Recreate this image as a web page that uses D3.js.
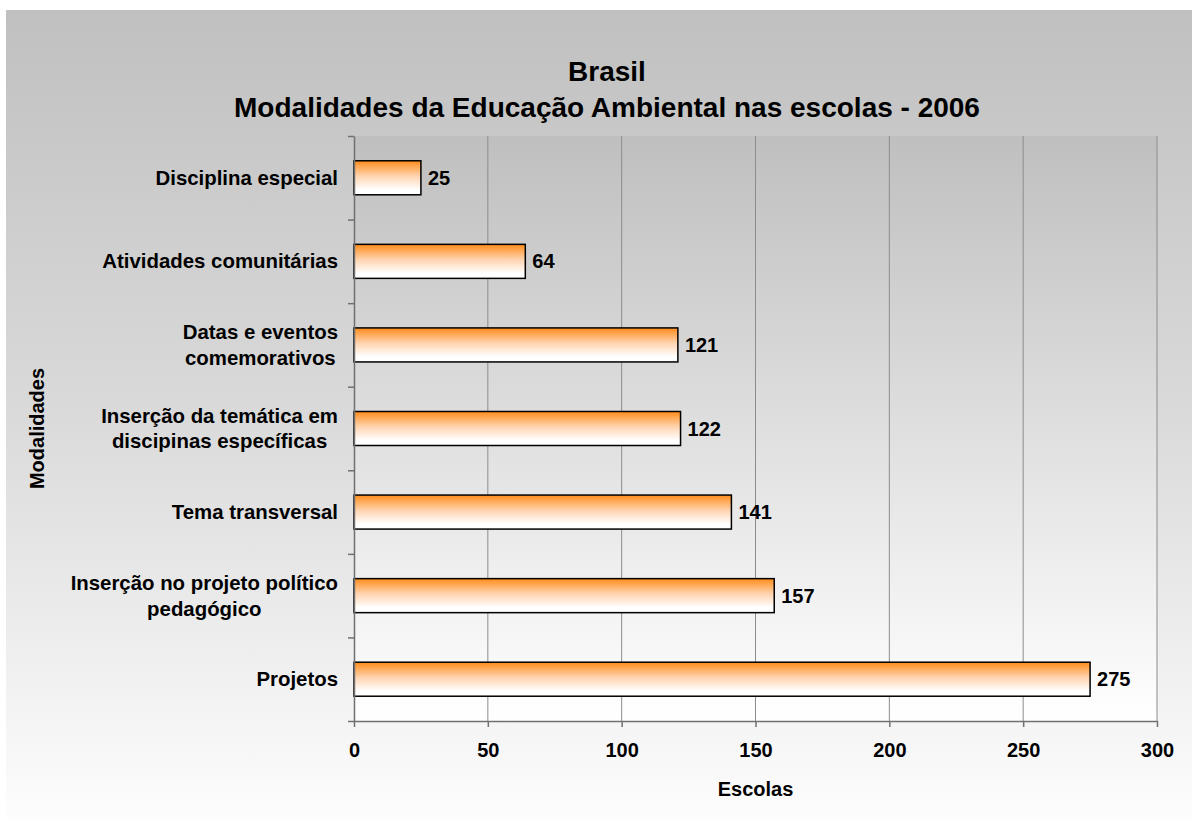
<!DOCTYPE html>
<html>
<head>
<meta charset="utf-8">
<script src="https://cdn.jsdelivr.net/npm/d3@7"></script>
<style>
  body { margin: 0; background: #fff; }
  text { font-family: Arial, "Liberation Sans", sans-serif; font-weight: bold; fill: #000; }
</style>
</head>
<body>
<div id="chart"></div>
<script>
// data (top to bottom)
var categories = [
  ["Disciplina especial"],
  ["Atividades comunitárias"],
  ["Datas e eventos", "comemorativos"],
  ["Inserção da temática em", "discipinas específicas"],
  ["Tema transversal"],
  ["Inserção no projeto político", "pedagógico"],
  ["Projetos"]
];
var values = [25, 64, 121, 122, 141, 157, 275];
var xTicks = [0, 50, 100, 150, 200, 250, 300];
var titleLines = ["Brasil", "Modalidades da Educação Ambiental nas escolas - 2006"];
var xLabel = "Escolas";
var yLabel = "Modalidades";

var W = 1193, H = 821;
var plot = {left: 354, right: 1157, top: 136, bottom: 721};

var svg = d3.select("#chart").append("svg")
  .attr("width", W)
  .attr("height", H);

var defs = svg.append("defs");

function vgrad(id, stops) {
  var g = defs.append("linearGradient").attr("id", id)
    .attr("x1", 0).attr("y1", 0).attr("x2", 0).attr("y2", 1);
  stops.forEach(s => g.append("stop").attr("offset", s[0]).attr("stop-color", s[1]));
}
vgrad("bgGrad", [[0, "#c0c0c0"], [0.5, "#dadada"], [1, "#fdfdfd"]]);
vgrad("plotGrad", [[0, "#bfbfbf"], [1, "#ffffff"]]);
vgrad("barGrad", [[0, "#ff8c1a"], [0.45, "#ffd4b0"], [0.85, "#ffffff"], [1, "#ffffff"]]);

// chart area background
svg.append("rect")
  .attr("x", 6).attr("y", 10)
  .attr("width", 1186).attr("height", 810)
  .attr("fill", "url(#bgGrad)");

// plot area background
svg.append("rect")
  .attr("x", plot.left).attr("y", plot.top)
  .attr("width", plot.right - plot.left).attr("height", plot.bottom - plot.top)
  .attr("fill", "url(#plotGrad)");

// scales
var x = d3.scaleLinear()
  .domain([0, 300])
  .range([plot.left, plot.right]);

var y = d3.scaleBand()
  .domain(d3.range(categories.length))
  .range([plot.top, plot.bottom])
  .paddingInner(0.593)
  .paddingOuter(0.2965);

// vertical gridlines
svg.append("g")
  .selectAll("line")
  .data(xTicks.filter(d => d > 0))
  .enter().append("line")
  .attr("x1", d => x(d)).attr("x2", d => x(d))
  .attr("y1", plot.top).attr("y2", plot.bottom)
  .attr("stroke", "#8c8c8c")
  .attr("stroke-width", 1);

// bars
svg.append("g")
  .selectAll("rect")
  .data(values)
  .enter().append("rect")
  .attr("x", x(0))
  .attr("y", (d, i) => y(i))
  .attr("width", d => x(d) - x(0))
  .attr("height", y.bandwidth())
  .attr("fill", "url(#barGrad)")
  .attr("stroke", "#000")
  .attr("stroke-width", 1.5);

// value labels
svg.append("g")
  .selectAll("text")
  .data(values)
  .enter().append("text")
  .attr("x", d => x(d) + 7)
  .attr("y", (d, i) => y(i) + y.bandwidth() / 2)
  .attr("dy", "0.35em")
  .style("font-size", "20px")
  .text(d => d);

// bottom axis
var xAxis = svg.append("g")
  .attr("transform", "translate(0," + plot.bottom + ")")
  .call(d3.axisBottom(x).tickValues(xTicks).tickSize(6).tickSizeOuter(0).tickPadding(16));
xAxis.select(".domain").attr("stroke", "#707070").attr("stroke-width", 1.5);
xAxis.selectAll(".tick line").attr("stroke", "#707070").attr("stroke-width", 1.5);
xAxis.selectAll(".tick text")
  .style("font-family", "Arial, 'Liberation Sans', sans-serif")
  .style("font-weight", "bold")
  .style("font-size", "20px")
  .attr("fill", "#000");

// left axis: ticks at category boundaries
var yEdge = d3.scaleLinear().domain([0, categories.length]).range([plot.top, plot.bottom]);
var yAxis = svg.append("g")
  .attr("transform", "translate(" + plot.left + ",0)")
  .call(d3.axisLeft(yEdge).tickValues(d3.range(categories.length + 1)).tickSize(6).tickSizeOuter(0).tickFormat(""));
yAxis.select(".domain").attr("stroke", "#707070").attr("stroke-width", 1.5);
yAxis.selectAll(".tick line").attr("stroke", "#707070").attr("stroke-width", 1.5);

// category labels, lines centred, block right aligned
var labelRight = 338, lineH = 25.5;
categories.forEach(function(lines, i) {
  var g = svg.append("g");
  var cy = y(i) + y.bandwidth() / 2;
  var texts = lines.map(function(s, k) {
    return g.append("text")
      .attr("y", cy + (k - (lines.length - 1) / 2) * lineH)
      .attr("dy", "0.35em")
      .attr("text-anchor", "middle")
      .style("font-size", "20.4px")
      .text(s);
  });
  var maxW = d3.max(texts, t => t.node().getComputedTextLength());
  texts.forEach(t => t.attr("x", labelRight - maxW / 2));
});

// title
svg.append("g")
  .selectAll("text")
  .data(titleLines)
  .enter().append("text")
  .attr("x", 607)
  .attr("y", (d, i) => 81 + i * 36)
  .attr("text-anchor", "middle")
  .style("font-size", "28px")
  .text(d => d);

// axis titles
svg.append("text")
  .attr("x", (plot.left + plot.right) / 2)
  .attr("y", 796)
  .attr("text-anchor", "middle")
  .style("font-size", "20px")
  .text(xLabel);

svg.append("text")
  .attr("transform", "rotate(-90)")
  .attr("x", -(plot.top + plot.bottom) / 2)
  .attr("y", 44)
  .attr("text-anchor", "middle")
  .style("font-size", "20px")
  .text(yLabel);
</script>
</body>
</html>
